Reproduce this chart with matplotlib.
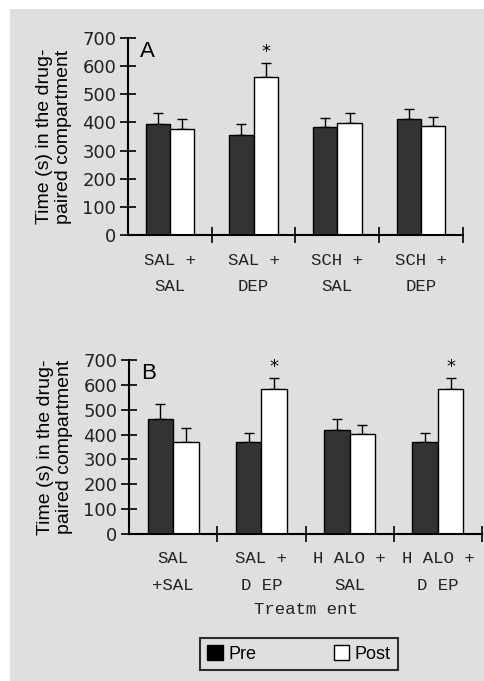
import matplotlib
matplotlib.use('Agg')
import matplotlib.pyplot as plt
from matplotlib.patches import Rectangle, Patch
import numpy as np

# Panel A data
groups_a = ['SAL +\nSAL', 'SAL +\nDEP', 'SCH +\nSAL', 'SCH +\nDEP']
pre_a = [394, 356, 384, 413]
pre_a_err = [41, 37, 32, 33]
post_a = [376, 563, 397, 389]
post_a_err = [37, 48, 38, 32]
stars_a = [False, True, False, False]

# Panel B data
groups_b = ['SAL\n+SAL', 'SAL +\nD EP', 'H ALO +\nSAL', 'H ALO +\nD EP']
pre_b = [462, 370, 419, 370]
pre_b_err = [63, 37, 43, 37]
post_b = [370, 585, 403, 585]
post_b_err = [55, 43, 37, 43]
stars_b = [False, True, False, True]

yticks = [0, 100, 200, 300, 400, 500, 600, 700]
ylabel = 'Time (s) in the drug-\npaired compartment'

W, H = 485, 681
fig = plt.figure(figsize=(W / 100, H / 100), dpi=100)
fig.patch.set_facecolor('white')
fig.patches.append(Rectangle((10 / W, 0), 1, 672 / H, transform=fig.transFigure,
                             facecolor='#dfdfdf', edgecolor='none', zorder=-10))


def draw_panel(rect, groups, pre, pre_err, post, post_err, stars, letter, lab_y, xlabel=None):
    ax = fig.add_axes(rect)
    ax.set_facecolor('none')
    x = np.arange(len(groups))
    w = 0.29
    ax.bar(x - w / 2, pre, w, color='#333333', edgecolor='black', linewidth=1, zorder=2)
    ax.bar(x + w / 2, post, w, color='white', edgecolor='black', linewidth=1, zorder=2)
    ax.errorbar(x - w / 2, pre, yerr=[np.zeros(len(pre)), pre_err], fmt='none',
                ecolor='black', elinewidth=1, capsize=3.5, capthick=1, zorder=1)
    ax.errorbar(x + w / 2, post, yerr=[np.zeros(len(post)), post_err], fmt='none',
                ecolor='black', elinewidth=1, capsize=3.5, capthick=1, zorder=1)
    for i, s in enumerate(stars):
        if s:
            ax.text(x[i] + w / 2, post[i] + post_err[i] + 8, '*', ha='center', va='bottom',
                    fontsize=13, fontfamily='DejaVu Sans')
    ax.set_xlim(-0.5, len(groups) - 0.5)
    ax.set_ylim(0, 700)
    ax.set_yticks(yticks)
    ax.set_yticklabels([str(v) for v in yticks], fontsize=13, fontfamily='DejaVu Sans', color='#222222')
    ax.set_xticks(x + 0.5)
    ax.set_xticklabels([])
    for i, g in enumerate(groups):
        ax.text(x[i], lab_y, g, transform=ax.get_xaxis_transform(), ha='center', va='top',
                fontsize=12.5, fontfamily='Liberation Mono', linespacing=1.95, color='#222222')
    ax.tick_params(axis='x', direction='inout', length=11, width=1.2)
    ax.tick_params(axis='y', direction='inout', length=11, width=1.2, pad=3)
    for side in ['top', 'right']:
        ax.spines[side].set_visible(False)
    for side in ['left', 'bottom']:
        ax.spines[side].set_linewidth(1.5)
    ax.set_ylabel(ylabel, fontsize=14, fontfamily='Liberation Sans', labelpad=7, linespacing=1.2)
    ax.text(0.035, 0.985, letter, transform=ax.transAxes, ha='left', va='top',
            fontsize=16, fontfamily='Liberation Sans')
    if xlabel:
        ax.text(0.5, -0.39, xlabel, transform=ax.transAxes, ha='center', va='top',
                fontsize=12.5, fontfamily='Liberation Mono', color='#222222')
    return ax


draw_panel([128 / W, 1 - 235 / H, 335 / W, 197 / H], groups_a, pre_a, pre_a_err,
           post_a, post_a_err, stars_a, 'A', -0.09)
draw_panel([129 / W, 1 - 534 / H, 353 / W, 174 / H], groups_b, pre_b, pre_b_err,
           post_b, post_b_err, stars_b, 'B', -0.1, xlabel='Treatm ent')

handles = [Patch(facecolor='black', edgecolor='black', label='Pre'),
           Patch(facecolor='white', edgecolor='black', label='Post')]
leg = fig.legend(handles=handles, loc='center', bbox_to_anchor=(299 / W, 1 - 654 / H),
                 ncol=2, frameon=True, fancybox=False, columnspacing=4.3, handlelength=0.85,
                 handleheight=0.85, handletextpad=0.3, borderpad=0.4,
                 prop={'family': 'Liberation Sans', 'size': 13})
leg.get_frame().set_edgecolor('black')
leg.get_frame().set_linewidth(1.5)
leg.get_frame().set_facecolor('#dfdfdf')

fig.savefig('out.png', dpi=100)
